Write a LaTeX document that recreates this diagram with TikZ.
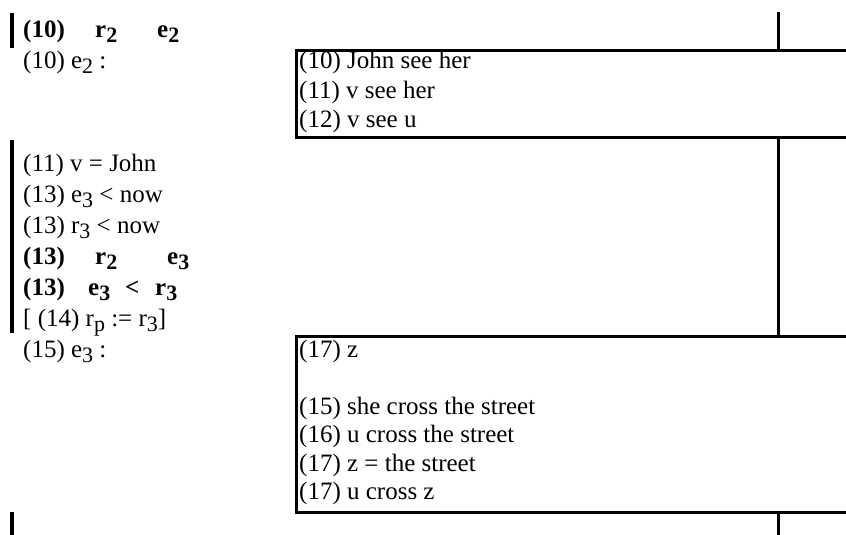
\documentclass[tikz,border=0pt]{standalone}
\usepackage{fontspec}
\setmainfont{Liberation Serif}
\newcommand\lo[1]{\raisebox{-5pt}{\fontsize{22}{22}\selectfont #1}}
\begin{document}
\begin{tikzpicture}[x=1pt,y=-1pt,
  txt/.style={anchor=base west, inner sep=0pt, font=\fontsize{25}{29}\selectfont},
  btxt/.style={anchor=base west, inner sep=0pt, font=\fontsize{25}{29}\selectfont\bfseries},
  frame/.style={draw, line width=3pt, anchor=north west, inner sep=0pt},
  bar/.style={line width=4pt},
  link/.style={line width=3pt}]
\clip (0,0) rectangle (846,535);
% boxes
\node[frame, minimum width=580pt, minimum height=87pt] (box1) at (295,49) {};
\node[frame, minimum width=580pt, minimum height=176pt] (box2) at (295,335) {};
% right vertical connectors
\coordinate (ttop) at (778,12);
\coordinate (tbot) at (778,535);
\draw[link] (ttop) -- (ttop |- box1.north);
\draw[link] (box1.south -| ttop) -- (box2.north -| ttop);
\draw[link] (box2.south -| ttop) -- (tbot);
% left bars
\draw[bar] (11.5,13) -- (11.5,48);
\draw[bar] (11.5,140) -- (11.5,333);
\draw[bar] (11.5,512) -- (11.5,535);
% left column
\node[btxt] (l1) at (23,38) {\makebox[72pt][l]{(10)}\makebox[62pt][l]{r\lo{2}}e\lo{2}};
\node[txt] (l2) at (23,69) {(10) e\lo{2} :};
\node[txt] (l3) at (23,171) {(11) v = John};
\node[txt] (l4) at (23,202) {(13) e\lo{3} < now};
\node[txt] (l5) at (23,233) {(13) r\lo{3} < now};
\node[btxt] (l6) at (23,264) {\makebox[72pt][l]{(13)}\makebox[72pt][l]{r\lo{2}}e\lo{3}};
\node[btxt] (l7) at (23,295) {\makebox[65pt][l]{(13)}\makebox[37pt][l]{e\lo{3}}\makebox[30pt][l]{<}r\lo{3}};
\node[txt] (l8) at (23,326) {[ (14) r\lo{p} := r\lo{3}]};
\node[txt] (l9) at (23,357) {(15) e\lo{3} :};
% box 1 text
\node[txt] (a1) at (299,69) {(10) John see her};
\node[txt] (a2) at (299,98) {(11) v see her};
\node[txt] (a3) at (299,127) {(12) v see u};
% box 2 text
\node[txt] (b1) at (299,357) {(17) z};
\node[txt] (b2) at (299,414) {(15) she cross the street};
\node[txt] (b3) at (299,442.5) {(16) u cross the street};
\node[txt] (b4) at (299,471) {(17) z = the street};
\node[txt] (b5) at (299,499.5) {(17) u cross z};
\end{tikzpicture}
\end{document}
